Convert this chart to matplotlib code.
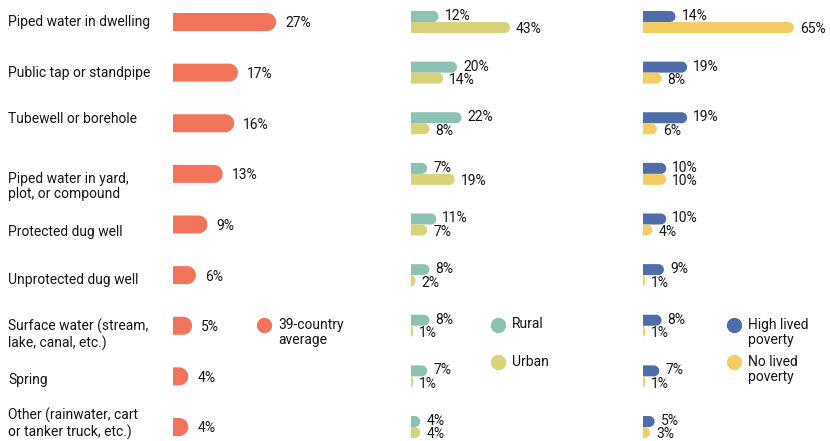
import numpy as np
import matplotlib
matplotlib.use('Agg')
import matplotlib.pyplot as plt
from matplotlib.patches import Polygon
from matplotlib.transforms import blended_transform_factory

plt.rcParams['font.family'] = ['Roboto', 'DejaVu Sans']

# data
sources = ['Piped water in dwelling', 'Public tap or standpipe', 'Tubewell or borehole',
           'Piped water in yard,\nplot, or compound', 'Protected dug well',
           'Unprotected dug well', 'Surface water (stream,\nlake, canal, etc.)',
           'Spring', 'Other (rainwater, cart\nor tanker truck, etc.)']
average = [27, 17, 16, 13, 9, 6, 5, 4, 4]
rural = [12, 20, 22, 7, 11, 8, 8, 7, 4]
urban = [43, 14, 8, 19, 7, 2, 1, 1, 4]
high_poverty = [14, 19, 19, 10, 10, 9, 8, 7, 5]
no_poverty = [65, 8, 6, 10, 4, 1, 1, 1, 3]

# colours
c_avg = '#F2745A'
c_rural = '#8CC2B3'
c_urban = '#D8D27A'
c_high = '#4F6DA8'
c_none = '#F2CD64'
c_text = '#161616'

FS = 10

W, H = 830, 441
fig = plt.figure(figsize=(W / 100, H / 100), dpi=100)

row_top, row_step = 22, 50.625
ylim = (8 + (H - 22 - 8 * row_step) / row_step, -row_top / row_step)


def make_axes(left_px, px_per_unit, xmax):
    ax = fig.add_axes([left_px / W, 0, xmax * px_per_unit / W, 1])
    ax.set_xlim(0, xmax)
    ax.set_ylim(*ylim)
    ax.axis('off')
    return ax


def scale(ax):
    p0 = ax.transData.transform((0, 0))
    p1 = ax.transData.transform((1, 1))
    return abs(p1[0] - p0[0]), abs(p1[1] - p0[1])


def rounded_bar(ax, value, yc, h, color):
    sx, sy = scale(ax)
    ry = h / 2
    rx = min(ry * sy / sx, value)
    t = np.linspace(-np.pi / 2, np.pi / 2, 40)
    xs = (value - rx) + rx * np.cos(t)
    ys = yc + ry * np.sin(t)
    verts = [(0, yc - ry)] + list(zip(xs, ys)) + [(0, yc + ry)]
    ax.add_patch(Polygon(verts, closed=True, facecolor=color, edgecolor='none', clip_on=False))


def value_label(ax, value, yc, gap_px=7, dy_px=1.5):
    sx, sy = scale(ax)
    ax.text(value + gap_px / sx, yc + dy_px / sy, f'{value}%', ha='left', va='center',
            fontsize=FS, color=c_text)


rows = np.arange(len(sources))

# left panel: 39-country average
ax1 = make_axes(173, 3.82, 30)
h1 = 18 / row_step
for i, v in zip(rows, average):
    rounded_bar(ax1, v, i, h1, c_avg)
    value_label(ax1, v, i, gap_px=9)

label_shift = [0, 0, -0.08, 0.25, 0.14, 0.1, 0.18, 0.08, -0.07]
tr = blended_transform_factory(fig.transFigure, ax1.transData)
for i, s in enumerate(sources):
    ax1.text(8 / W, i + label_shift[i], s, transform=tr, ha='left', va='center',
             fontsize=FS, color=c_text, linespacing=1.15)

# middle and right panels
h2 = 11 / row_step
ax2 = make_axes(411, 2.3, 50)
ax3 = make_axes(643, 2.32, 70)
for ax, a, b, ca, cb in [(ax2, rural, urban, c_rural, c_urban),
                         (ax3, high_poverty, no_poverty, c_high, c_none)]:
    for i in rows:
        rounded_bar(ax, a[i], i - h2 / 2, h2, ca)
        rounded_bar(ax, b[i], i + h2 / 2, h2, cb)
        value_label(ax, a[i], i - h2 / 2, gap_px=6, dy_px=-0.5)
        value_label(ax, b[i], i + h2 / 2, gap_px=6, dy_px=2)

# legends
legend_items = [
    (264, 325, c_avg, '39-country\naverage'),
    (498, 325, c_rural, 'Rural'),
    (498, 362, c_urban, 'Urban'),
    (734, 325, c_high, 'High lived\npoverty'),
    (734, 362, c_none, 'No lived\npoverty'),
]
for x, y, c, txt in legend_items:
    fig.add_artist(plt.Line2D([x / W], [1 - y / H], marker='o', ms=10, color=c,
                              linestyle='none', transform=fig.transFigure))
    fig.text((x + 14) / W, 1 - (y - 7.5) / H, txt, ha='left', va='top', fontsize=FS,
             color=c_text, linespacing=1.15)

fig.savefig('out.png', dpi=100, facecolor='white')
